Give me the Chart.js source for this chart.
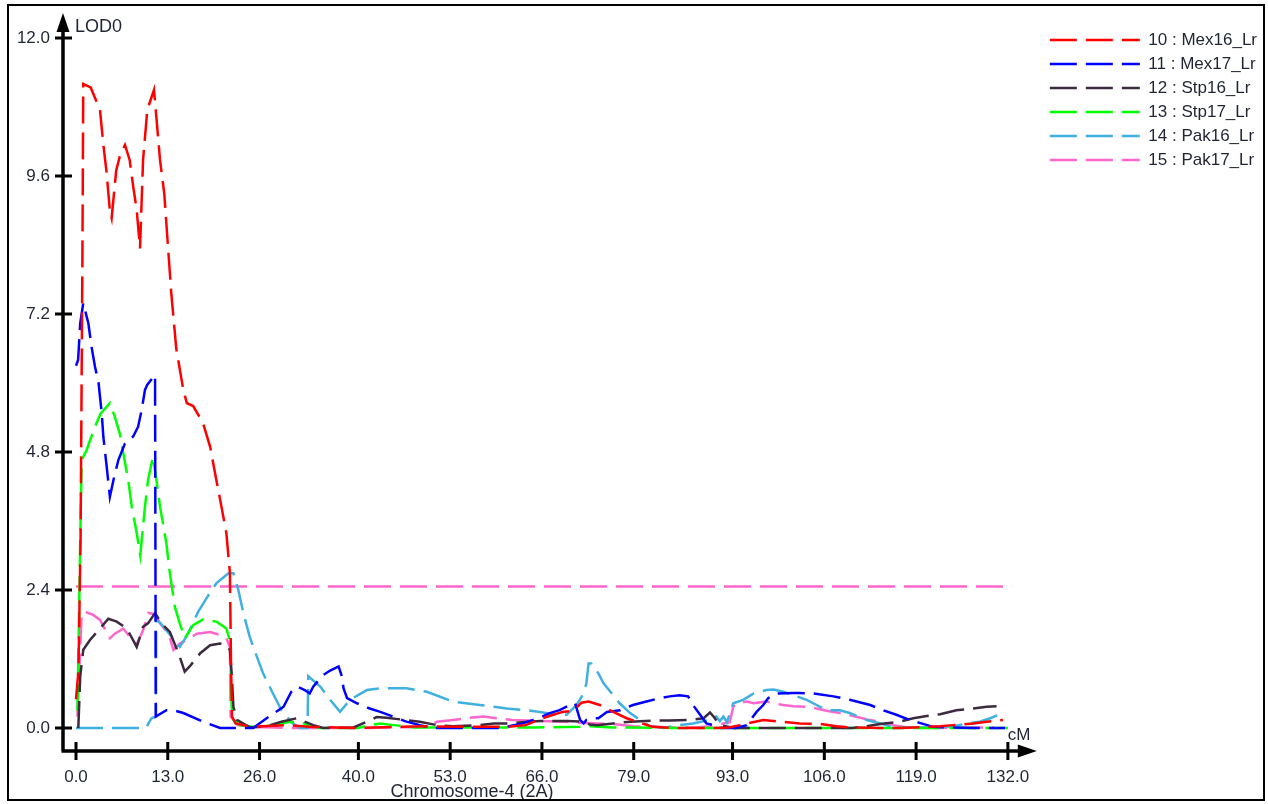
<!DOCTYPE html>
<html>
<head>
<meta charset="utf-8">
<title>LOD profile - Chromosome-4 (2A)</title>
<script src="https://cdn.jsdelivr.net/npm/chart.js@4.4.1/dist/chart.umd.min.js"></script>
<style>
    html, body { margin: 0; padding: 0; background: #fff; }
    #wrap { position: relative; width: 1268px; height: 804px; }
</style>
</head>
<body>
<div id="wrap"><canvas id="lodChart"></canvas></div>
<script>
// LOD scan along chromosome 4 (2A), one curve per trait, [cM, LOD]

const seriesLabels = ['10 : Mex16_Lr', '11 : Mex17_Lr', '12 : Stp16_Lr', '13 : Stp17_Lr', '14 : Pak16_Lr', '15 : Pak17_Lr'];
const seriesColors = ['#ff0000', '#0000ff', '#3c2a3e', '#00ff00', '#40b0e0', '#ff66cc'];

const mex16 = [[0,0.5],[0.35,1.0],[0.65,3.3],[0.9,8.0],[1.03,11.2],[2.08,11.14],[3.4,10.75],[3.85,10.17],[4.3,9.7],[4.8,9.0],[5.05,8.87],[5.7,9.7],[6.2,9.94],[6.94,10.14],[7.6,9.88],[8.1,9.42],[8.6,9.01],[9.07,8.34],[9.5,9.88],[10.1,10.75],[11.05,11.1],[11.5,10.46],[11.9,9.88],[12.5,9.3],[12.9,8.6],[13.5,7.56],[14.2,6.6],[15.2,5.88],[15.7,5.65],[16.6,5.6],[18.0,5.3],[19.0,4.89],[19.7,4.43],[20.6,3.85],[21.3,3.39],[21.8,2.7],[21.95,1.2],[22.1,0.2],[22.6,0.08],[25,0.02],[28,0.04],[30,0.05],[33,0.02],[37,0.01],[40,0],[45,0.02],[50,0.03],[55,0.02],[61.3,0.02],[63.7,0.05],[66.1,0.17],[68.9,0.28],[70.5,0.3],[71.6,0.44],[72.6,0.46],[74.2,0.4],[76.1,0.28],[78,0.17],[79.4,0.11],[81.7,0.02],[85,0],[90,0],[92.5,0.01],[94.05,0.05],[97.35,0.14],[99.7,0.11],[102.5,0.08],[105.4,0.07],[107.7,0.03],[109.6,0.01],[113.9,0],[116.7,0],[122.4,0.03],[124.2,0.05],[127.1,0.08],[129,0.11],[131.3,0.14]];

const mex17 = [[0,6.3],[0.3,6.4],[0.6,7.04],[1.03,7.39],[1.75,7.04],[2.2,6.63],[2.7,6.28],[3.2,6.0],[3.4,5.76],[3.65,5.47],[3.87,5.07],[4.35,4.54],[4.8,4.02],[5.3,4.31],[6.0,4.66],[6.94,4.95],[8.1,5.07],[8.8,5.24],[9.3,5.53],[9.77,5.88],[10.1,5.97],[11.2,6.14],[11.3,0.2],[12.8,0.31],[13.8,0.31],[15.2,0.26],[18.0,0.11],[20.4,0],[25.1,0],[27.0,0.17],[29.4,0.37],[30.5,0.63],[31.3,0.72],[32.4,0.66],[33.1,0.6],[33.6,0.72],[35.0,0.92],[36.0,1.0],[37.2,1.07],[37.6,0.92],[37.9,0.69],[38.4,0.52],[39.8,0.43],[41.6,0.34],[43.1,0.28],[44.9,0.2],[46.8,0.11],[48.7,0.05],[50.6,0],[60,0],[63.3,0.08],[65.5,0.17],[67.1,0.26],[68.5,0.31],[70.0,0.4],[70.7,0.43],[71.4,0.14],[71.9,0.08],[72.3,0.14],[73.3,0.17],[74.0,0.17],[75.2,0.28],[77.1,0.31],[78.9,0.4],[80.8,0.46],[82.7,0.52],[84.1,0.55],[85.5,0.57],[86.7,0.55],[87.4,0.4],[88.4,0.23],[89.3,0.08],[90.3,0.05],[91.2,0],[93.5,0],[95.0,0.05],[96.4,0.28],[97.35,0.4],[98.06,0.52],[99.5,0.6],[101.6,0.61],[102.5,0.61],[104.4,0.6],[107.3,0.55],[109.6,0.49],[112.5,0.4],[114.3,0.31],[116.2,0.23],[118.1,0.14],[119.5,0.09],[121.4,0.02],[127,0],[131.6,0]];

const stp16 = [[0.33,0],[0.6,0.9],[1.03,1.36],[1.98,1.53],[3.4,1.73],[4.58,1.9],[5.77,1.85],[7.2,1.73],[8.6,1.41],[9.5,1.76],[10.2,1.82],[11.2,2.0],[12.1,1.82],[13.3,1.67],[14.7,1.24],[15.4,0.98],[16.1,1.07],[17.6,1.3],[19.0,1.44],[20.4,1.47],[21.3,1.44],[21.8,1.36],[22.05,0.95],[22.3,0.37],[22.8,0.14],[24.6,0.01],[27,0.03],[29.1,0.11],[31.3,0.17],[32.4,0.11],[33.6,0.05],[35,0],[39.3,0.01],[41.2,0.11],[42.6,0.19],[44.0,0.18],[45.9,0.15],[48.7,0.11],[51.1,0.05],[53.4,0.03],[57.2,0.05],[59.2,0.08],[61.6,0.08],[63.9,0.11],[65.8,0.12],[69.6,0.12],[71.5,0.11],[72.8,0.06],[73.8,0.05],[76.1,0.08],[78.5,0.11],[81.8,0.13],[84.1,0.13],[86.9,0.14],[88.9,0.17],[89.8,0.27],[90.3,0.2],[91.2,0.05],[93.1,0],[100,0],[110,0],[112,0.03],[113.9,0.07],[116.7,0.11],[118.6,0.17],[120.5,0.21],[122.4,0.24],[124.7,0.31],[127.1,0.34],[129,0.37],[130.4,0.38]];

const stp17 = [[0.2,0.3],[0.5,2.5],[0.8,4.66],[1.5,4.83],[1.98,5.0],[2.9,5.3],[3.5,5.47],[4.8,5.65],[5.5,5.41],[6.2,5.12],[6.7,4.78],[7.4,4.31],[7.9,3.85],[8.6,3.39],[9.1,3.0],[9.77,3.85],[10.2,4.31],[10.9,4.72],[11.4,4.31],[11.9,3.85],[12.4,3.5],[12.8,3.21],[13.3,2.69],[14.0,2.11],[14.7,1.82],[15.4,1.56],[16.6,1.79],[18.0,1.89],[19.9,1.85],[21.3,1.73],[21.8,1.52],[22.05,0.37],[22.3,0.14],[23.2,0.05],[25,0.02],[28,0.05],[30.3,0.11],[32.2,0.08],[34.5,0],[40,0],[41.6,0.05],[43.1,0.08],[45,0.05],[48,0.01],[55,0.01],[65,0.01],[71.4,0.02],[72.8,0.03],[76,0.01],[85,0],[132,0]];

const pak16 = [[0,0],[5,0],[9.9,0],[10.7,0.17],[11.33,0.2],[11.35,1.88],[12.0,1.82],[13.2,1.64],[14.7,1.41],[15.7,1.6],[17.3,2.02],[18.5,2.26],[19.9,2.52],[21.6,2.69],[22.3,2.69],[23.0,2.4],[23.7,2.0],[24.6,1.59],[25.1,1.41],[26.5,0.95],[27.9,0.6],[29.1,0.31],[30.6,0.09],[31.7,0],[32.8,0],[32.9,0.9],[34.6,0.72],[36.0,0.49],[37.4,0.28],[38.8,0.49],[41.2,0.66],[43.1,0.69],[46.8,0.69],[49.7,0.63],[53.4,0.46],[57.2,0.4],[59.2,0.37],[61.0,0.34],[63.8,0.31],[65.7,0.28],[67.6,0.24],[69.5,0.23],[70.9,0.4],[71.9,0.6],[72.3,0.78],[72.6,1.12],[73.0,1.12],[74.0,0.95],[74.7,0.78],[75.9,0.6],[77.0,0.43],[78.5,0.26],[79.9,0.14],[81.3,0.03],[83.2,0],[85.5,0.05],[87.4,0.08],[89.8,0.14],[90.7,0.2],[91.2,0.12],[91.7,0.2],[92.2,0.1],[93.1,0.43],[94.5,0.49],[96.0,0.6],[97.8,0.66],[98.8,0.67],[100.2,0.63],[102.1,0.55],[103.5,0.49],[104.9,0.4],[106.3,0.31],[108.2,0.31],[109.6,0.26],[112.0,0.14],[113.9,0.08],[115.8,0.01],[118.6,0.01],[121.4,0.01],[124.3,0.03],[126.2,0.08],[128.0,0.11],[129.5,0.17],[131.3,0.26]];

const pak17 = [[0.2,0.2],[0.8,2.0],[1.27,2.02],[2.4,1.97],[3.4,1.88],[4.8,1.56],[5.5,1.64],[6.7,1.73],[7.6,1.59],[8.6,1.45],[9.5,1.7],[10.24,2.0],[11.2,1.98],[11.9,1.82],[13.1,1.64],[13.8,1.36],[14.7,1.47],[15.7,1.53],[17.1,1.64],[19.0,1.67],[20.4,1.62],[21.3,1.56],[21.8,1.41],[21.9,0.2],[22.9,0.05],[25,0.02],[30,0],[40,0],[50,0.02],[51.1,0.11],[53.4,0.14],[55.3,0.17],[57.7,0.2],[59.5,0.17],[61.8,0.14],[64,0.13],[69,0.11],[71.4,0.09],[73.8,0.08],[76.1,0.07],[78.9,0.03],[81.8,0.02],[84.1,0.01],[87.9,0.01],[89.8,0.03],[92.6,0.1],[93.1,0.37],[93.6,0.43],[95.0,0.46],[96.0,0.43],[97.8,0.46],[98.8,0.43],[100.2,0.4],[101.6,0.38],[103.5,0.37],[104.9,0.34],[106.3,0.3],[108.2,0.26],[110.1,0.21],[112,0.15],[113.9,0.11],[115.8,0.05],[117.7,0.01],[122,0],[127.1,0.01],[130,0.01]];

const threshold = [[0, 2.46], [132.6, 2.46]];

const xTicks = [0, 13, 26, 40, 53, 66, 79, 93, 106, 119, 132];
const yTicks = [0, 2.4, 4.8, 7.2, 9.6, 12.0];

const textColor = '#1f2533';
Chart.defaults.font.family = '"Liberation Sans", Arial, sans-serif';
Chart.defaults.color = textColor;

// axis lines with arrows, crossing tick marks and the axis captions
const axisDecor = {
    id: 'axisDecor',
    afterDraw(chart) {
        const { ctx, chartArea, scales } = chart;
        const ox = chartArea.left;
        const oy = chartArea.bottom;
        const xEnd = chartArea.right - 6;
        const yEnd = 13;
        ctx.save();
        ctx.strokeStyle = '#000';
        ctx.fillStyle = '#000';
        ctx.lineCap = 'butt';

        ctx.lineWidth = 3.5;
        ctx.beginPath();
        ctx.moveTo(ox, oy);
        ctx.lineTo(ox, yEnd + 12);
        ctx.moveTo(ox - 1.5, oy);
        ctx.lineTo(xEnd - 12, oy);
        ctx.stroke();

        ctx.beginPath();
        ctx.moveTo(ox, yEnd);
        ctx.lineTo(ox - 6.5, yEnd + 19);
        ctx.lineTo(ox + 6.5, yEnd + 19);
        ctx.closePath();
        ctx.fill();

        ctx.beginPath();
        ctx.moveTo(xEnd, oy);
        ctx.lineTo(xEnd - 19, oy - 6.5);
        ctx.lineTo(xEnd - 19, oy + 6.5);
        ctx.closePath();
        ctx.fill();

        ctx.lineWidth = 3;
        ctx.beginPath();
        yTicks.forEach(v => {
            const py = scales.y.getPixelForValue(v);
            ctx.moveTo(ox - 8, py);
            ctx.lineTo(ox + 9, py);
        });
        xTicks.forEach(v => {
            const px = scales.x.getPixelForValue(v);
            ctx.moveTo(px, oy - 9);
            ctx.lineTo(px, oy + 9);
        });
        ctx.stroke();

        ctx.fillStyle = textColor;
        ctx.textBaseline = 'middle';
        ctx.font = '18px "Liberation Sans", Arial, sans-serif';
        ctx.textAlign = 'left';
        ctx.fillText('LOD0', ox + 12, 27);
        ctx.font = '17px "Liberation Sans", Arial, sans-serif';
        ctx.fillText('cM', xEnd - 29, oy - 16);
        ctx.font = '18px "Liberation Sans", Arial, sans-serif';
        ctx.textAlign = 'center';
        ctx.fillText('Chromosome-4 (2A)', 472, 792);

        ctx.strokeStyle = '#000';
        ctx.lineWidth = 2;
        ctx.strokeRect(8, 5, 1256, 795);
        ctx.restore();
    }
};

document.addEventListener('DOMContentLoaded', () => {
    const seriesData = [mex16, mex17, stp16, stp17, pak16, pak17];
    const datasets = seriesLabels.map((label, i) => ({
        label: label,
        data: seriesData[i].map(p => ({ x: p[0], y: p[1] })),
        borderColor: seriesColors[i],
        backgroundColor: seriesColors[i],
        borderWidth: 2.5,
        borderDash: [27, 9],
        pointRadius: 0,
        tension: 0,
        fill: false
    }));
    datasets.push({
        label: 'threshold',
        data: threshold.map(p => ({ x: p[0], y: p[1] })),
        borderColor: seriesColors[5],
        borderWidth: 2.5,
        borderDash: [27, 9],
        pointRadius: 0,
        fill: false
    });

    const ctx = document.getElementById('lodChart').getContext('2d');
    new Chart(ctx, {
        type: 'line',
        data: { datasets: datasets },
        options: {
            responsive: true,
            maintainAspectRatio: false,
            animation: false,
            events: [],
            devicePixelRatio: 1,
            layout: { padding: { top: 24.5, right: 1, bottom: 0, left: 0 } },
            scales: {
                x: {
                    type: 'linear',
                    min: -1.841,
                    max: 136.95,
                    grid: { display: false, drawTicks: false },
                    border: { display: false },
                    afterBuildTicks: scale => { scale.ticks = xTicks.map(v => ({ value: v })); },
                    afterFit: scale => { scale.height = 53; },
                    ticks: {
                        autoSkip: false,
                        maxRotation: 0,
                        padding: 16,
                        font: { size: 17 },
                        color: textColor,
                        callback: v => Number(v).toFixed(1)
                    }
                },
                y: {
                    type: 'linear',
                    min: -0.4,
                    max: 12.235,
                    grid: { display: false, drawTicks: false },
                    border: { display: false },
                    afterBuildTicks: scale => { scale.ticks = yTicks.map(v => ({ value: v })); },
                    afterFit: scale => { scale.width = 63; },
                    ticks: {
                        autoSkip: false,
                        padding: 13,
                        font: { size: 17 },
                        color: textColor,
                        callback: v => Number(v).toFixed(1)
                    }
                }
            },
            plugins: {
                tooltip: { enabled: false },
                legend: {
                    position: 'right',
                    align: 'start',
                    labels: {
                        usePointStyle: true,
                        pointStyle: 'line',
                        pointStyleWidth: 90,
                        padding: 7,
                        color: textColor,
                        font: { size: 17 },
                        // point style legend drops the dash, take it from the dataset
                        generateLabels: chart => Chart.defaults.plugins.legend.labels.generateLabels(chart).map(item => {
                            const ds = chart.data.datasets[item.datasetIndex];
                            item.lineDash = ds.borderDash;
                            item.lineWidth = ds.borderWidth;
                            item.strokeStyle = ds.borderColor;
                            return item;
                        }),
                        filter: item => item.datasetIndex < seriesLabels.length
                    }
                }
            }
        },
        plugins: [axisDecor]
    });
});
</script>
</body>
</html>
